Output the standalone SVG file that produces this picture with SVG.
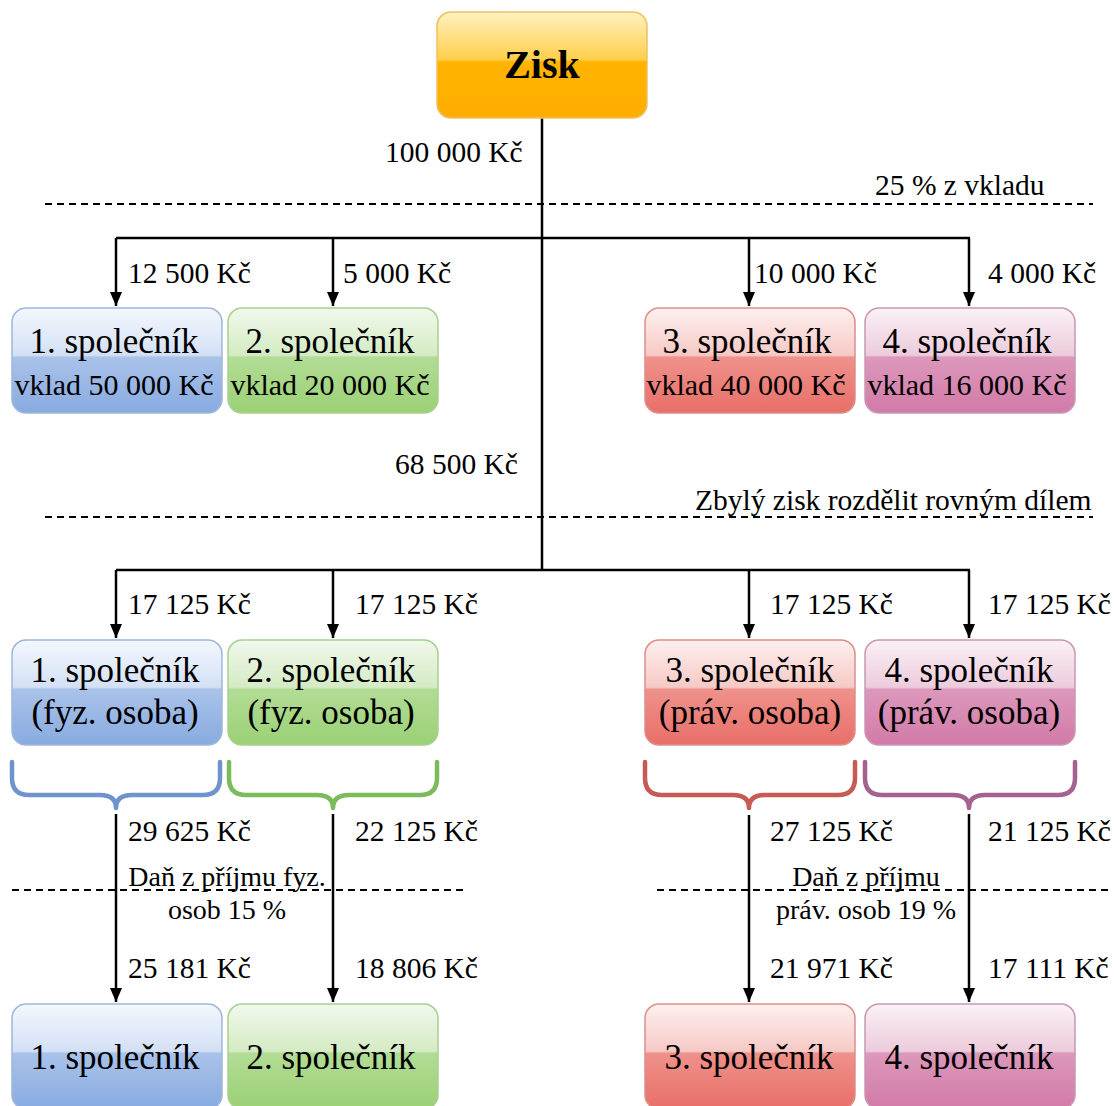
<svg xmlns="http://www.w3.org/2000/svg" width="1114" height="1106" viewBox="0 0 1114 1106" font-family="'Liberation Serif', 'Times New Roman', Tinos, Times, serif">
<defs>
<linearGradient id="gOrange" x1="0" y1="0" x2="0" y2="1">
<stop offset="0" stop-color="#fff1c0"/><stop offset="0.45" stop-color="#ffcf4a"/><stop offset="0.47" stop-color="#ffb400"/><stop offset="1" stop-color="#ffad00"/>
</linearGradient>
<linearGradient id="gBlue" x1="0" y1="0" x2="0" y2="1">
<stop offset="0" stop-color="#f4f8fe"/><stop offset="0.45" stop-color="#d3e0f4"/><stop offset="0.47" stop-color="#a9c2e9"/><stop offset="1" stop-color="#88abe0"/>
</linearGradient>
<linearGradient id="gGreen" x1="0" y1="0" x2="0" y2="1">
<stop offset="0" stop-color="#f1f8ec"/><stop offset="0.45" stop-color="#d4ebc4"/><stop offset="0.47" stop-color="#b2dc95"/><stop offset="1" stop-color="#9bd175"/>
</linearGradient>
<linearGradient id="gRed" x1="0" y1="0" x2="0" y2="1">
<stop offset="0" stop-color="#fdf0ef"/><stop offset="0.45" stop-color="#f6c9c5"/><stop offset="0.47" stop-color="#ef918b"/><stop offset="1" stop-color="#e86f68"/>
</linearGradient>
<linearGradient id="gPurple" x1="0" y1="0" x2="0" y2="1">
<stop offset="0" stop-color="#fbf1f6"/><stop offset="0.45" stop-color="#eccbdc"/><stop offset="0.47" stop-color="#dc98bb"/><stop offset="1" stop-color="#d27aa8"/>
</linearGradient>
<marker id="arr" viewBox="0 0 14 12" refX="14" refY="6" markerWidth="14" markerHeight="12" markerUnits="userSpaceOnUse" orient="auto">
<path d="M0,0 L14,6 L0,12 Z" fill="#000"/>
</marker>
</defs>
<style>
text{font-family:'Liberation Serif','Times New Roman',Tinos,Times,serif;fill:#000}
.box{font-size:35px;text-anchor:middle}
.sub{font-size:30px;text-anchor:middle}
.lbl{font-size:29.5px}
.ctr{font-size:28px;text-anchor:middle}
.ln{stroke:#000;stroke-width:2.5;fill:none}
.arrow{stroke:#000;stroke-width:2.5;fill:none}
.dash{stroke:#000;stroke-width:2;stroke-dasharray:7,5;fill:none}
.brace{fill:none;stroke-width:4.5;stroke-linecap:round;stroke-linejoin:round}
.nb{stroke-width:1.5}
</style>

<g id="guides">
<line class="dash" x1="45" y1="204" x2="1093" y2="204"/>
<line class="dash" x1="45" y1="517" x2="1093" y2="517"/>
<line class="dash" x1="12" y1="890" x2="466" y2="890"/>
<line class="dash" x1="657" y1="890" x2="1110" y2="890"/>
</g>

<g id="connectors">
<line class="ln" x1="542" y1="118" x2="542" y2="570"/>
<line class="ln" x1="116" y1="238" x2="970" y2="238"/>
<line class="arrow" x1="116" y1="238" x2="116" y2="306" marker-end="url(#arr)"/>
<line class="arrow" x1="333" y1="238" x2="333" y2="306" marker-end="url(#arr)"/>
<line class="arrow" x1="749" y1="238" x2="749" y2="306" marker-end="url(#arr)"/>
<line class="arrow" x1="969" y1="238" x2="969" y2="306" marker-end="url(#arr)"/>
<line class="ln" x1="116" y1="570" x2="970" y2="570"/>
<line class="arrow" x1="116" y1="570" x2="116" y2="638" marker-end="url(#arr)"/>
<line class="arrow" x1="333" y1="570" x2="333" y2="638" marker-end="url(#arr)"/>
<line class="arrow" x1="749" y1="570" x2="749" y2="638" marker-end="url(#arr)"/>
<line class="arrow" x1="969" y1="570" x2="969" y2="638" marker-end="url(#arr)"/>
<line class="arrow" x1="116" y1="814" x2="116" y2="1002" marker-end="url(#arr)"/>
<line class="arrow" x1="333" y1="814" x2="333" y2="1002" marker-end="url(#arr)"/>
<line class="arrow" x1="749" y1="815" x2="749" y2="1002" marker-end="url(#arr)"/>
<line class="arrow" x1="969" y1="814" x2="969" y2="1002" marker-end="url(#arr)"/>
</g>

<g id="braces">
<path class="brace" stroke="#6f93cc" d="M12,762 V778 Q12,795 29,795 H100 Q116,795 116,808 Q116,795 132,795 H203 Q220,795 220,778 V762"/>
<path class="brace" stroke="#7cbb5c" d="M229,762 V778 Q229,795 246,795 H317 Q333,795 333,808 Q333,795 349,795 H420 Q437,795 437,778 V762"/>
<path class="brace" stroke="#c65a55" d="M645,762 V778 Q645,795 662,795 H733 Q749,795 749,808 Q749,795 765,795 H838 Q855,795 855,778 V762"/>
<path class="brace" stroke="#a5628f" d="M865,762 V778 Q865,795 882,795 H953 Q969,795 969,808 Q969,795 985,795 H1058 Q1075,795 1075,778 V762"/>
</g>

<g id="labels">
<text class="lbl" x="385" y="162">100 000 Kč</text>
<text class="lbl" x="875" y="195">25 % z vkladu</text>
<text class="lbl" x="128" y="283">12 500 Kč</text>
<text class="lbl" x="343" y="283">5 000 Kč</text>
<text class="lbl" x="754" y="283">10 000 Kč</text>
<text class="lbl" x="988" y="283">4 000 Kč</text>
<text class="lbl" x="395" y="474">68 500 Kč</text>
<text class="lbl" x="695" y="510">Zbylý zisk rozdělit rovným dílem</text>
<text class="lbl" x="128" y="614">17 125 Kč</text>
<text class="lbl" x="355" y="614">17 125 Kč</text>
<text class="lbl" x="770" y="614">17 125 Kč</text>
<text class="lbl" x="988" y="614">17 125 Kč</text>
<text class="lbl" x="128" y="841">29 625 Kč</text>
<text class="lbl" x="355" y="841">22 125 Kč</text>
<text class="lbl" x="770" y="841">27 125 Kč</text>
<text class="lbl" x="988" y="841">21 125 Kč</text>
<text class="ctr" x="227" y="886">Daň z příjmu fyz.</text>
<text class="ctr" x="227" y="919">osob 15 %</text>
<text class="ctr" x="866" y="886">Daň z příjmu</text>
<text class="ctr" x="866" y="919">práv. osob 19 %</text>
<text class="lbl" x="128" y="978">25 181 Kč</text>
<text class="lbl" x="355" y="978">18 806 Kč</text>
<text class="lbl" x="770" y="978">21 971 Kč</text>
<text class="lbl" x="988" y="978">17 111 Kč</text>
</g>

<g id="zisk">
<rect x="437" y="12" width="210" height="106" rx="14" fill="url(#gOrange)" stroke="#f0c060" class="nb"/>
<text x="542" y="78" font-size="40" font-weight="bold" text-anchor="middle">Zisk</text>
</g>

<g id="r1n1">
<rect x="12" y="308" width="210" height="105" rx="14" fill="url(#gBlue)" stroke="#9fb6dc" class="nb"/>
<text class="box" x="114" y="353">1. společník</text>
<text class="sub" x="114" y="395">vklad 50 000 Kč</text>
</g>
<g id="r1n2">
<rect x="228" y="308" width="210" height="105" rx="14" fill="url(#gGreen)" stroke="#a8cf90" class="nb"/>
<text class="box" x="330" y="353">2. společník</text>
<text class="sub" x="330" y="395">vklad 20 000 Kč</text>
</g>
<g id="r1n3">
<rect x="645" y="308" width="210" height="105" rx="14" fill="url(#gRed)" stroke="#dc8f8a" class="nb"/>
<text class="box" x="747" y="353">3. společník</text>
<text class="sub" x="746" y="395">vklad 40 000 Kč</text>
</g>
<g id="r1n4">
<rect x="865" y="308" width="210" height="105" rx="14" fill="url(#gPurple)" stroke="#c898b5" class="nb"/>
<text class="box" x="967" y="353">4. společník</text>
<text class="sub" x="967" y="395">vklad 16 000 Kč</text>
</g>

<g id="r2n1">
<rect x="12" y="640" width="210" height="105" rx="14" fill="url(#gBlue)" stroke="#9fb6dc" class="nb"/>
<text class="box" x="115" y="682">1. společník</text>
<text class="box" x="115" y="724">(fyz. osoba)</text>
</g>
<g id="r2n2">
<rect x="228" y="640" width="210" height="105" rx="14" fill="url(#gGreen)" stroke="#a8cf90" class="nb"/>
<text class="box" x="331" y="682">2. společník</text>
<text class="box" x="331" y="724">(fyz. osoba)</text>
</g>
<g id="r2n3">
<rect x="645" y="640" width="210" height="105" rx="14" fill="url(#gRed)" stroke="#dc8f8a" class="nb"/>
<text class="box" x="750" y="682">3. společník</text>
<text class="box" x="750" y="724">(práv. osoba)</text>
</g>
<g id="r2n4">
<rect x="865" y="640" width="210" height="105" rx="14" fill="url(#gPurple)" stroke="#c898b5" class="nb"/>
<text class="box" x="969" y="682">4. společník</text>
<text class="box" x="969" y="724">(práv. osoba)</text>
</g>

<g id="r3n1">
<rect x="12" y="1004" width="210" height="105" rx="14" fill="url(#gBlue)" stroke="#9fb6dc" class="nb"/>
<text class="box" x="115" y="1069">1. společník</text>
</g>
<g id="r3n2">
<rect x="228" y="1004" width="210" height="105" rx="14" fill="url(#gGreen)" stroke="#a8cf90" class="nb"/>
<text class="box" x="331" y="1069">2. společník</text>
</g>
<g id="r3n3">
<rect x="645" y="1004" width="210" height="105" rx="14" fill="url(#gRed)" stroke="#dc8f8a" class="nb"/>
<text class="box" x="749" y="1069">3. společník</text>
</g>
<g id="r3n4">
<rect x="865" y="1004" width="210" height="105" rx="14" fill="url(#gPurple)" stroke="#c898b5" class="nb"/>
<text class="box" x="969" y="1069">4. společník</text>
</g>
</svg>
